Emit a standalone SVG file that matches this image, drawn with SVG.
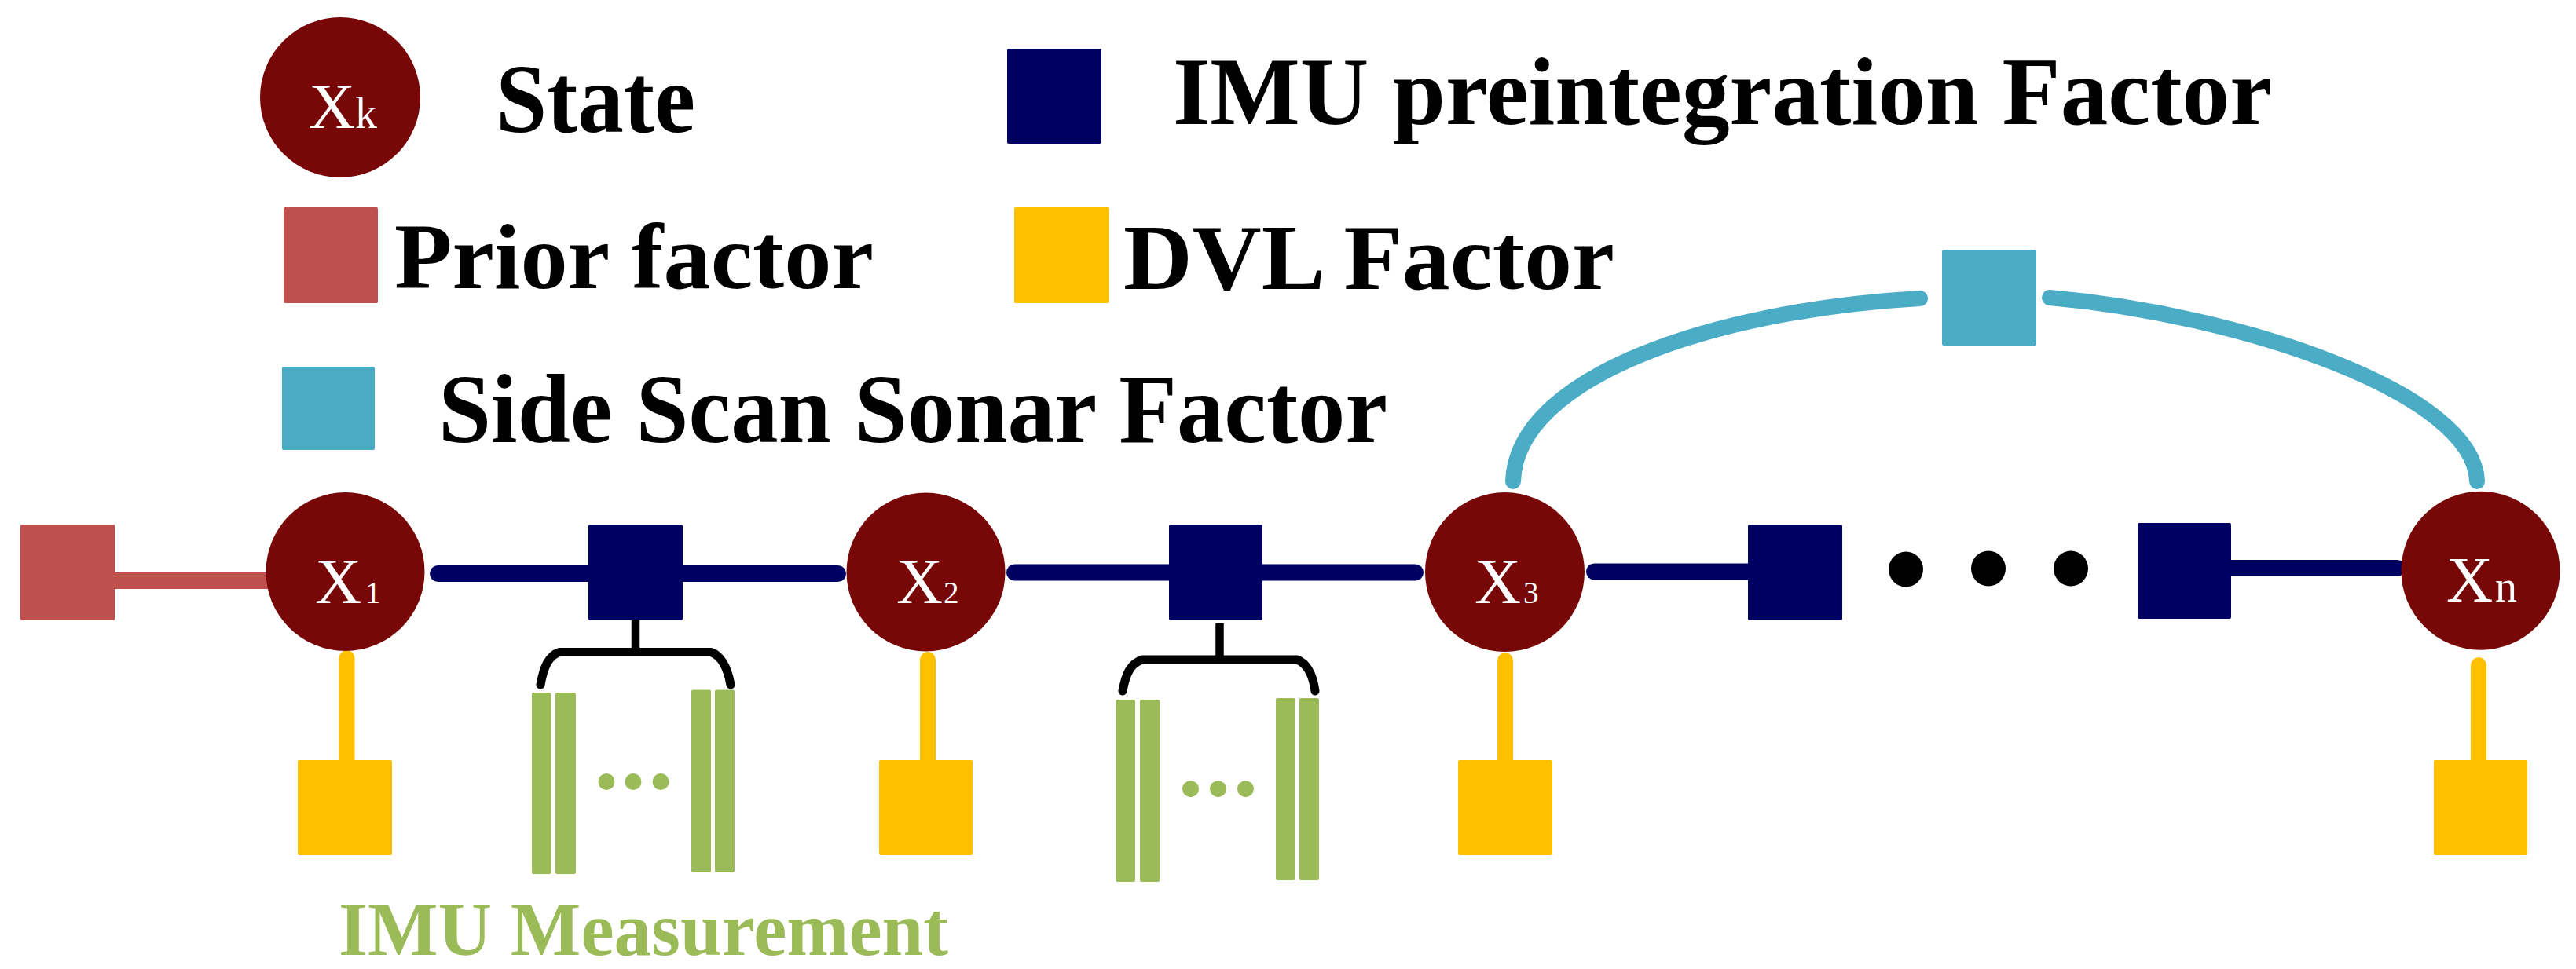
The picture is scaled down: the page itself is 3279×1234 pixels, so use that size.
<svg xmlns="http://www.w3.org/2000/svg" width="3279" height="1234" viewBox="0 0 3279 1234">
<style>
.state{fill:#780808}
.imu{fill:#000063}
.prior{fill:#C0504D}
.dvl{fill:#FFC000}
.sss{fill:#4BACC6}
.meas{fill:#9BBB59}
.lbl{font-family:"Liberation Serif","Times New Roman",serif;fill:#fff}
.big{font-size:82px}
.sub{font-size:39px}
.subl{font-size:56px}
.leg{font-family:"Liberation Serif","Times New Roman",serif;font-weight:bold;fill:#000}
.navy{stroke:#000063;stroke-width:21;stroke-linecap:round;fill:none}
.yel{stroke:#FFC000;stroke-width:20;stroke-linecap:round;fill:none}
.teal{stroke:#4BACC6;stroke-width:20;stroke-linecap:round;fill:none}
.brk{stroke:#000;stroke-width:11;stroke-linecap:round;stroke-linejoin:round;fill:none}
</style>
<rect width="3279" height="1234" fill="#fff"/>

<g id="legend">
  <g id="legend-state">
    <circle class="state" cx="433" cy="124" r="102"/>
    <text class="lbl big" x="393" y="163">X</text>
    <text class="lbl subl" x="452" y="163">k</text>
    <text class="leg" x="631" y="168" font-size="125" textLength="254" lengthAdjust="spacingAndGlyphs">State</text>
  </g>
  <g id="legend-imu">
    <rect class="imu" x="1282" y="62" width="120" height="121" rx="2"/>
    <text class="leg" x="1493" y="158" font-size="122" textLength="1399" lengthAdjust="spacingAndGlyphs">IMU preintegration Factor</text>
  </g>
  <g id="legend-prior">
    <rect class="prior" x="361" y="264" width="120" height="122" rx="2"/>
    <text class="leg" x="502" y="367" font-size="118" textLength="610" lengthAdjust="spacingAndGlyphs">Prior factor</text>
  </g>
  <g id="legend-dvl">
    <rect class="dvl" x="1291" y="264" width="121" height="122" rx="2"/>
    <text class="leg" x="1430" y="368" font-size="118" textLength="625" lengthAdjust="spacingAndGlyphs">DVL Factor</text>
  </g>
  <g id="legend-sss">
    <rect class="sss" x="359" y="467" width="118" height="106" rx="2"/>
    <text class="leg" x="558" y="563" font-size="125" textLength="1208" lengthAdjust="spacingAndGlyphs">Side Scan Sonar Factor</text>
  </g>
</g>

<g id="connectors">
  <line x1="140" y1="739.5" x2="400" y2="739.5" stroke="#C0504D" stroke-width="21"/>
  <line class="navy" x1="557.5" y1="730.5" x2="1066.5" y2="730.5"/>
  <line class="navy" x1="1291.5" y1="729" x2="1801.5" y2="729"/>
  <line class="navy" x1="2029.5" y1="728" x2="2240" y2="728"/>
  <line class="navy" x1="2830" y1="723.5" x2="3051.5" y2="723.5"/>
  <line class="yel" x1="441.5" y1="838" x2="441.5" y2="975"/>
  <line class="yel" x1="1181" y1="840" x2="1181" y2="975"/>
  <line class="yel" x1="1916" y1="841" x2="1916" y2="975"/>
  <line class="yel" x1="3155" y1="847" x2="3155" y2="975"/>
  <path class="teal" d="M1926,613 C1930,480 2180,395 2444,380"/>
  <path class="teal" d="M2609,379 C2850,400 3150,500 3153,613"/>
  <line x1="809" y1="785" x2="809" y2="830" stroke="#000" stroke-width="10.5"/>
  <path class="brk" d="M688,872 C692,850 698,835 712,830.5 H905 C918,835 926,850 930,872"/>
  <line x1="1552.5" y1="794" x2="1552.5" y2="840" stroke="#000" stroke-width="10.5"/>
  <path class="brk" d="M1429,880 C1433,858 1439,845 1454,840 H1651 C1664,845 1671,858 1674,880"/>
</g>

<g id="prior-factor">
  <rect class="prior" x="26" y="668" width="120" height="122" rx="2"/>
</g>

<g id="x1">
  <circle class="state" cx="439.5" cy="728" r="101"/>
  <text class="lbl big" x="401" y="767.7">X</text>
  <text class="lbl sub" x="465" y="767.7">1</text>
</g>
<g id="x2">
  <circle class="state" cx="1178.5" cy="728.5" r="101"/>
  <text class="lbl big" x="1141" y="767.6">X</text>
  <text class="lbl sub" x="1201" y="767.6">2</text>
</g>
<g id="x3">
  <circle class="state" cx="1915.5" cy="728.5" r="101.5"/>
  <text class="lbl big" x="1877" y="767.6">X</text>
  <text class="lbl sub" x="1939" y="767.6">3</text>
</g>
<g id="xn">
  <circle class="state" cx="3157.5" cy="726.7" r="101"/>
  <text class="lbl big" x="3114" y="765.7">X</text>
  <text class="lbl subl" x="3176" y="765.7">n</text>
</g>

<g id="imu-factor-1"><rect class="imu" x="749" y="668" width="120" height="122" rx="2"/></g>
<g id="imu-factor-2"><rect class="imu" x="1488" y="668" width="119" height="122" rx="2"/></g>
<g id="imu-factor-3"><rect class="imu" x="2225" y="668" width="120" height="122" rx="2"/></g>
<g id="imu-factor-4"><rect class="imu" x="2721" y="666" width="119" height="122" rx="2"/></g>

<g id="ellipsis">
  <ellipse cx="2426" cy="725" rx="22" ry="22.5"/>
  <ellipse cx="2531" cy="724" rx="22" ry="22.5"/>
  <ellipse cx="2636" cy="724" rx="22" ry="22.5"/>
</g>

<g id="dvl-1"><rect class="dvl" x="379" y="968" width="120" height="121" rx="2"/></g>
<g id="dvl-2"><rect class="dvl" x="1119" y="968" width="119" height="121" rx="2"/></g>
<g id="dvl-3"><rect class="dvl" x="1856" y="968" width="120" height="121" rx="2"/></g>
<g id="dvl-n"><rect class="dvl" x="3098" y="968" width="119" height="121" rx="2"/></g>

<g id="sss-factor"><rect class="sss" x="2472" y="318" width="120" height="122" rx="2"/></g>

<g id="imu-measurement-1">
  <rect class="meas" x="677" y="882" width="24.5" height="231" rx="2"/>
  <rect class="meas" x="707" y="882" width="26" height="231" rx="2"/>
  <rect class="meas" x="880" y="878.5" width="25" height="232.5" rx="2"/>
  <rect class="meas" x="910" y="878.5" width="25" height="232.5" rx="2"/>
  <ellipse class="meas" cx="772" cy="995.5" rx="10.5" ry="10.5"/>
  <ellipse class="meas" cx="806" cy="995.5" rx="10.5" ry="10.5"/>
  <ellipse class="meas" cx="841" cy="995.5" rx="10.5" ry="10.5"/>
</g>
<g id="imu-measurement-2">
  <rect class="meas" x="1420.5" y="891" width="24.5" height="232" rx="2"/>
  <rect class="meas" x="1451" y="891" width="25" height="232" rx="2"/>
  <rect class="meas" x="1624" y="889" width="24.5" height="232" rx="2"/>
  <rect class="meas" x="1654" y="889" width="25" height="232" rx="2"/>
  <ellipse class="meas" cx="1515.5" cy="1004.7" rx="10.5" ry="10.5"/>
  <ellipse class="meas" cx="1550.5" cy="1004.7" rx="10.5" ry="10.5"/>
  <ellipse class="meas" cx="1585.5" cy="1004.7" rx="10.5" ry="10.5"/>
</g>
<text id="imu-measurement-label" class="leg" x="431" y="1216" font-size="97" fill="#9BBB59" style="fill:#9BBB59" textLength="776" lengthAdjust="spacingAndGlyphs">IMU Measurement</text>
</svg>
